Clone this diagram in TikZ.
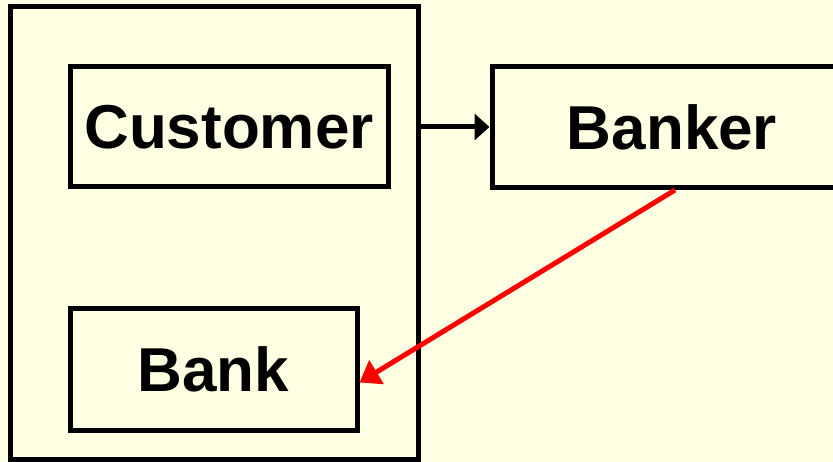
\documentclass[tikz,border=0pt]{standalone}
\usepackage{fontspec}
\setmainfont{Liberation Sans}
\usetikzlibrary{arrows.meta}
\definecolor{paper}{RGB}{255,255,227}
\tikzset{
  box/.style={draw, line width=5pt, inner sep=0pt, font=\fontsize{62}{70}\selectfont\bfseries},
  link/.style={draw, line width=5pt},
}
\newcommand\sunk[1]{\raisebox{-3pt}{#1}}
\begin{document}
\begin{tikzpicture}[x=1pt,y=-1pt]
\clip (0,0) rectangle (833,462);
\fill[paper] (0,0) rectangle (833,462);
% outer frame
\node[box, minimum width=408pt, minimum height=453pt] (frame) at (214,233) {};
\node[box, minimum width=318pt, minimum height=120pt] (customer) at (229,127) {\sunk{Customer}};
\node[box, minimum width=287pt, minimum height=121pt] (bank) at (213.5,369.5) {\sunk{Bank}};
\node[box, minimum width=360pt, minimum height=121pt] (banker) at (672,127) {\sunk{Banker}};
% arrows
\path[link,-{Triangle[length=15pt,width=26pt]}] (frame.east |- customer) -- (banker.west);
\path[link,red,-{Triangle[length=20pt,width=27pt]}] ([xshift=3pt]banker.south) -- ([yshift=-13pt]bank.east);
\end{tikzpicture}
\end{document}
